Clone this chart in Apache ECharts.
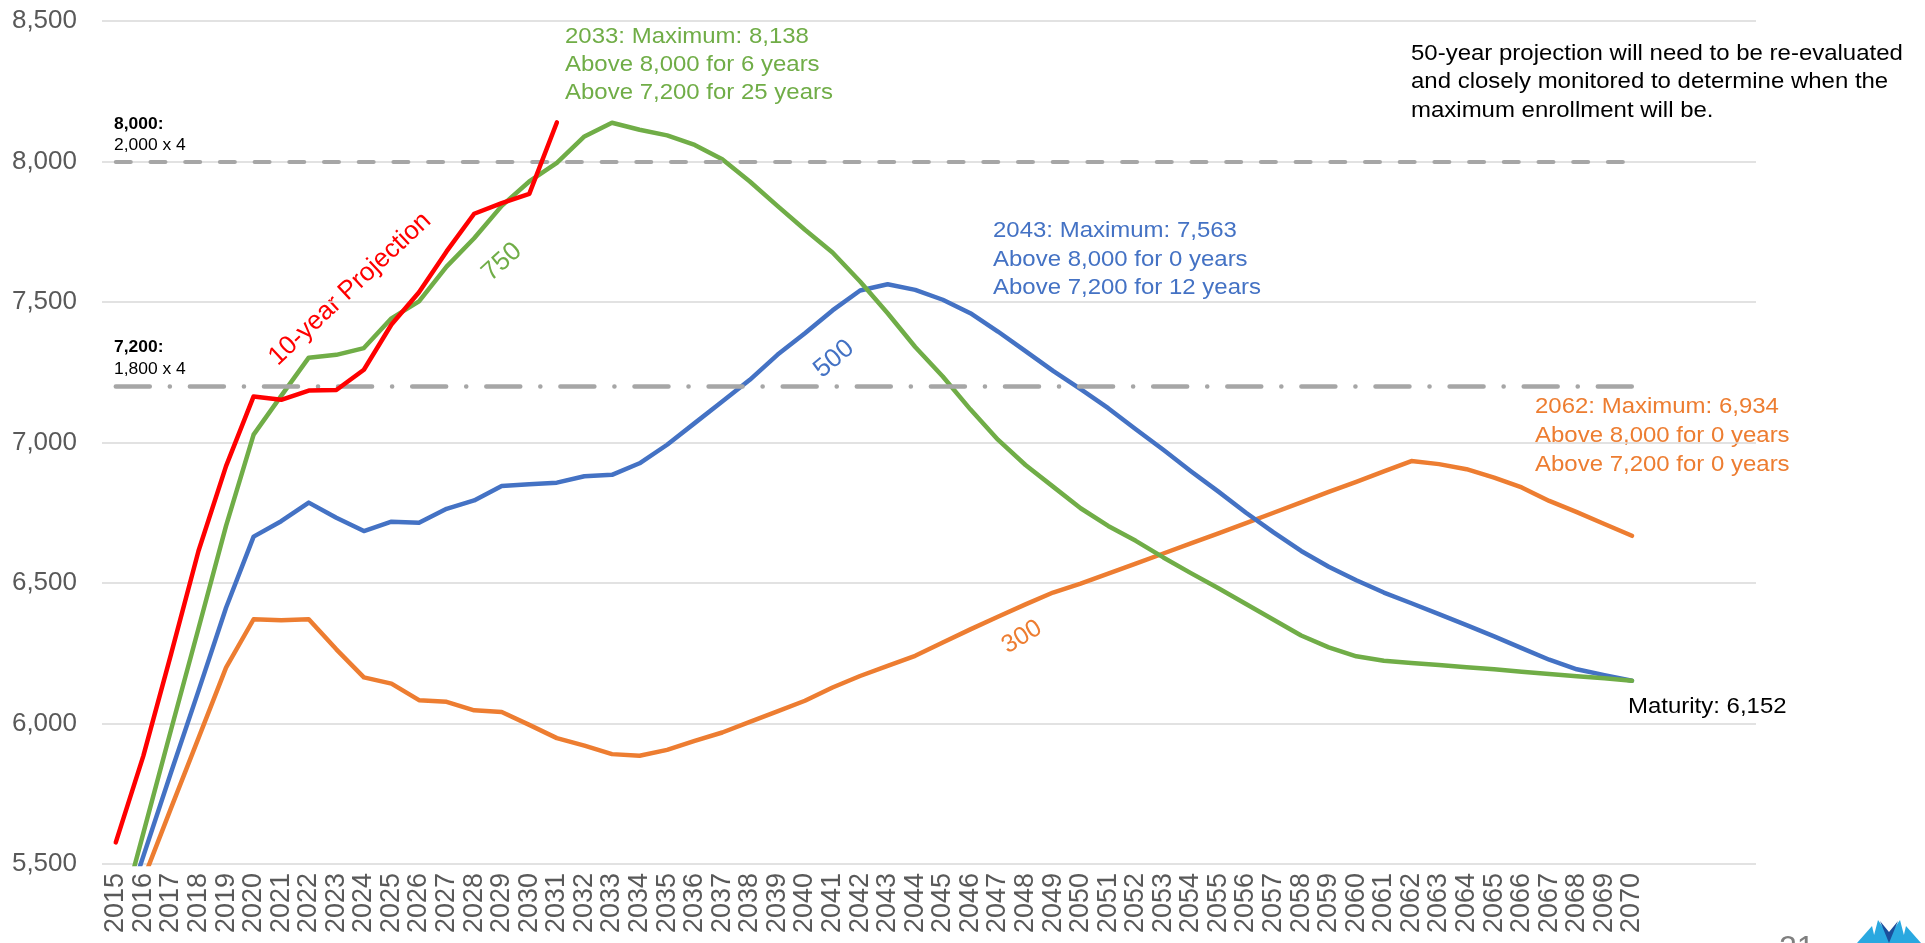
<!DOCTYPE html>
<html>
<head>
<meta charset="utf-8">
<script src="https://cdn.jsdelivr.net/npm/echarts@6/dist/echarts.min.js"></script>
<style>
  html, body { margin: 0; padding: 0; background: #fff; }
  #chart { width: 1925px; height: 943px; }
</style>
</head>
<body>
<div id="chart"></div>
<script>
// categories: 2015-2070 plus four empty slots on the right of the plot
const years = ['2015','2016','2017','2018','2019','2020','2021','2022','2023','2024',
  '2025','2026','2027','2028','2029','2030','2031','2032','2033','2034',
  '2035','2036','2037','2038','2039','2040','2041','2042','2043','2044',
  '2045','2046','2047','2048','2049','2050','2051','2052','2053','2054',
  '2055','2056','2057','2058','2059','2060','2061','2062','2063','2064',
  '2065','2066','2067','2068','2069','2070','','','',''];

// 10-year projection (2015-2031)
const tenYear = [5577, 5885, 6245, 6614, 6916, 7164, 7152, 7185, 7187, 7259,
  7420, 7535, 7680, 7814, 7852, 7885, 8139];

const s750 = [5245, 5610, 5976, 6338, 6703, 7028, 7166, 7302, 7312, 7336,
  7442, 7502, 7626, 7727, 7842, 7929, 7995, 8089, 8138, 8113,
  8093, 8059, 8008, 7929, 7842, 7757, 7676, 7573, 7460, 7340,
  7235, 7118, 7010, 6920, 6843, 6766, 6703, 6650, 6591, 6535,
  6481, 6425, 6369, 6313, 6271, 6239, 6223, 6215, 6208, 6200,
  6193, 6184, 6176, 6168, 6161, 6152];

const s500 = [5233, 5528, 5825, 6116, 6412, 6665, 6720, 6786, 6732, 6685,
  6718, 6714, 6764, 6794, 6845, 6851, 6857, 6880, 6885, 6926,
  6992, 7069, 7146, 7223, 7312, 7389, 7470, 7541, 7563, 7543,
  7508, 7460, 7395, 7325, 7255, 7190, 7122, 7047, 6974, 6898,
  6825, 6750, 6680, 6614, 6558, 6510, 6466, 6428, 6389, 6350,
  6310, 6268, 6227, 6193, 6172, 6152];

const s300 = [5190, 5445, 5698, 5948, 6199, 6371, 6367, 6371, 6264, 6164,
  6142, 6083, 6077, 6047, 6041, 5995, 5948, 5921, 5891, 5885,
  5906, 5938, 5968, 6006, 6043, 6081, 6128, 6169, 6205, 6241,
  6288, 6335, 6380, 6424, 6466, 6498, 6533, 6569, 6605, 6641,
  6677, 6713, 6750, 6787, 6824, 6860, 6897, 6934, 6923, 6905,
  6875, 6840, 6792, 6752, 6710, 6668];

// capacity thresholds
const cap8000 = 8000;
const cap7200 = 7200;

const chart = echarts.init(document.getElementById('chart'));

const BLUE = '#4472c4', ORANGE = '#ed7d31', GREEN = '#70ad47', RED = '#ff0000', GREY = '#a6a6a6';
const FONT = '"Liberation Sans", Arial, sans-serif';

function line(name, data, color, z) {
  return {
    name: name,
    type: 'line',
    data: data,
    symbol: 'none',
    smooth: false,
    clip: true,
    z: z,
    lineStyle: { color: color, width: 4.5, join: 'round', cap: 'round' }
  };
}

function note(text, x, y, color, size, bold) {
  return {
    type: 'text',
    x: x, y: y,
    scaleX: 1.09,
    style: {
      text: text,
      fill: color,
      font: (bold ? 'bold ' : '') + size + 'px ' + FONT,
      align: 'left', verticalAlign: 'middle',
      textAlign: 'left', textVerticalAlign: 'middle'
    }
  };
}

function tilted(text, x, y, deg, color, size) {
  return {
    type: 'text',
    x: x, y: y,
    rotation: deg * Math.PI / 180,
    style: {
      text: text,
      fill: color,
      font: size + 'px ' + FONT,
      align: 'center', verticalAlign: 'middle',
      textAlign: 'center', textVerticalAlign: 'middle'
    }
  };
}

chart.setOption({
  animation: false,
  backgroundColor: '#ffffff',
  grid: { left: 102, right: 169, top: 21, bottom: 79, containLabel: false },
  xAxis: {
    type: 'category',
    data: years,
    boundaryGap: true,
    axisLine: { show: false },
    axisTick: { show: false },
    splitLine: { show: false },
    axisLabel: {
      interval: 0,
      rotate: 90,
      margin: 9,
      color: '#595959',
      fontSize: 27,
      fontFamily: FONT
    }
  },
  yAxis: {
    type: 'value',
    min: 5500,
    max: 8500,
    interval: 500,
    axisLine: { show: false },
    axisTick: { show: false },
    splitLine: { lineStyle: { color: '#d9d9d9', width: 1.5 } },
    axisLabel: {
      margin: 25,
      color: '#595959',
      fontSize: 26,
      fontFamily: FONT,
      formatter: function (v) { return v.toLocaleString('en-US'); }
    }
  },
  series: [
    line('300', s300, ORANGE, 2),
    line('500', s500, BLUE, 3),
    line('750', s750, GREEN, 4),
    line('10-year Projection', tenYear, RED, 5),
    {
      name: 'capacity',
      type: 'line',
      data: [],
      z: 6,
      markLine: {
        silent: true,
        symbol: ['none', 'none'],
        label: { show: false },
        data: [
          [
            { coord: ['2015', cap8000], lineStyle: { color: GREY, width: 4, type: [15, 19.7], cap: 'round' } },
            { coord: ['2070', cap8000] }
          ],
          [
            { coord: ['2015', cap7200], lineStyle: { color: GREY, width: 4.5, type: [34, 20, 0.1, 20], cap: 'round' } },
            { coord: ['2070', cap7200] }
          ]
        ]
      }
    }
  ],
  graphic: [
    note('2033: Maximum: 8,138', 565, 37, GREEN, 22),
    note('Above 8,000 for 6 years', 565, 65, GREEN, 22),
    note('Above 7,200 for 25 years', 565, 93, GREEN, 22),

    note('2043: Maximum: 7,563', 993, 231, BLUE, 22),
    note('Above 8,000 for 0 years', 993, 260, BLUE, 22),
    note('Above 7,200 for 12 years', 993, 288, BLUE, 22),

    note('2062: Maximum: 6,934', 1535, 407, ORANGE, 22),
    note('Above 8,000 for 0 years', 1535, 436, ORANGE, 22),
    note('Above 7,200 for 0 years', 1535, 465, ORANGE, 22),

    note('50-year projection will need to be re-evaluated', 1411, 54, '#000000', 22),
    note('and closely monitored to determine when the', 1411, 82, '#000000', 22),
    note('maximum enrollment will be.', 1411, 111, '#000000', 22),

    note('Maturity: 6,152', 1628, 707, '#000000', 22),

    note('8,000:', 114, 125, '#000000', 16, true),
    note('2,000 x 4', 114, 146, '#000000', 16),
    note('7,200:', 114, 348, '#000000', 16, true),
    note('1,800 x 4', 114, 370, '#000000', 16),

    tilted('10-year Projection', 350, 289, 43, RED, 26),
    tilted('750', 502, 262, 42.5, GREEN, 26),
    tilted('500', 834, 359, 40, BLUE, 26),
    tilted('300', 1022, 637, 31.6, ORANGE, 25),

    // page number and logo corner, mostly cut off by the frame
    {
      type: 'text', x: 1779, y: 933,
      style: { text: '21', fill: '#7f7f7f', font: '32px ' + FONT }
    },
    {
      type: 'polygon',
      shape: { points: [[1857, 943], [1872, 926], [1876, 943]] },
      style: { fill: '#29a8e0' }
    },
    {
      type: 'polygon',
      shape: { points: [[1872, 943], [1878, 920], [1889, 936], [1900, 920], [1906, 943]] },
      style: { fill: '#29a8e0' }
    },
    {
      type: 'polygon',
      shape: { points: [[1880, 921], [1889, 932], [1898, 921], [1889, 943]] },
      style: { fill: '#1b4f9c' }
    },
    {
      type: 'polygon',
      shape: { points: [[1902, 943], [1906, 926], [1921, 943]] },
      style: { fill: '#29a8e0' }
    }
  ]
});
</script>
</body>
</html>
